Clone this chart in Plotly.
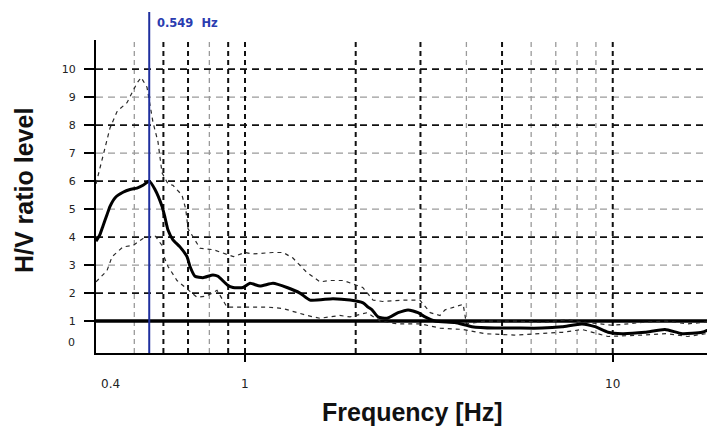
import math
import plotly.graph_objects as go

# ---------------- data ----------------
main_freq = [0.3934, 0.4034, 0.411, 0.4214, 0.4295, 0.443, 0.4659, 0.4867, 0.5084, 0.528, 0.549,
             0.5692, 0.5947, 0.606, 0.6175, 0.637, 0.6655, 0.6955, 0.7087, 0.7311, 0.7687, 0.8184,
             0.8446, 0.8933, 0.9276, 0.9876, 1.0318, 1.0985, 1.1917, 1.3006, 1.4109, 1.5024, 1.7351,
             1.9303, 2.0945, 2.161, 2.2156, 2.2999, 2.433, 2.6074, 2.7755, 2.9547, 3.0875, 3.287,
             3.7252, 4.1429, 4.7853, 5.425, 6.4236, 7.2811, 8.251, 8.9504, 9.7096, 10.6, 12.24,
             13.87, 15.44, 17.5, 18.97]
main_hv = [3.85, 4.1, 4.4, 4.8, 5.1, 5.4, 5.6, 5.7, 5.75, 5.85, 6.0,
           5.7, 5.1, 4.7, 4.25, 3.9, 3.65, 3.3, 2.95, 2.6, 2.55, 2.65,
           2.6, 2.3, 2.2, 2.2, 2.35, 2.25, 2.35, 2.2, 2.0, 1.75, 1.8,
           1.75, 1.65, 1.5, 1.4, 1.15, 1.1, 1.3, 1.4, 1.3, 1.15, 1.0,
           0.95, 0.8, 0.75, 0.75, 0.75, 0.8, 0.9, 0.8, 0.6, 0.55, 0.6,
           0.7, 0.55, 0.6, 0.8]

upper_freq = [0.3934, 0.411, 0.4295, 0.4494, 0.4776, 0.5084, 0.522, 0.5414, 0.549, 0.5621, 0.58,
              0.5947, 0.6175, 0.637, 0.674, 0.69, 0.70, 0.7545, 0.82, 0.93, 1.0, 1.05, 1.19,
              1.27, 1.35, 1.47, 1.6, 1.7, 1.85, 2.09, 2.23, 2.37, 2.69, 2.99, 3.19, 3.39, 3.5,
              3.68, 3.92, 4.0, 4.5, 5.5, 6.5, 7.5, 8.5, 10.0, 12.0, 14.0, 16.0, 18.97]
upper_hv = [5.9, 6.85, 7.9, 8.5, 8.8, 9.5, 9.7, 9.35, 8.9, 8.1, 7.4,
            6.3, 5.9, 5.85, 5.5, 5.0, 4.3, 3.6, 3.55, 3.3, 3.45, 3.4, 3.45,
            3.45, 3.25, 2.75, 2.4, 2.45, 2.45, 2.2, 1.75, 1.7, 1.75, 1.75, 1.3, 1.2, 1.4,
            1.5, 1.6, 0.9, 1.0, 1.0, 0.95, 1.05, 0.95, 0.85, 0.95, 1.0, 0.9, 1.0]

lower_freq = [0.3934, 0.4214, 0.435, 0.4659, 0.4962, 0.528, 0.5692, 0.5947, 0.598, 0.6175, 0.6532,
              0.7404, 0.7882, 0.8393, 0.8933, 1.0126, 1.1478, 1.2684, 1.4744, 1.6, 1.81, 1.93,
              2.15, 2.33, 2.6, 3.0, 3.39, 3.92, 4.5, 5.4, 6.4, 7.3, 8.25, 9.7, 12.0, 14.0, 16.0,
              18.97]
lower_hv = [2.4, 2.8, 3.3, 3.65, 3.7, 3.95, 4.05, 3.7, 3.4, 2.95, 2.45,
            1.85, 1.9, 2.1, 1.5, 1.5, 1.5, 1.45, 1.2, 1.1, 1.2, 1.15,
            1.3, 1.0, 0.9, 0.9, 0.75, 0.7, 0.55, 0.5, 0.55, 0.6, 0.7, 0.45, 0.5, 0.55, 0.45,
            0.6]

peak_freq = 0.549
peak_label = "0.549  Hz"

x_min, x_max = 0.3934, 18.97
y_min, y_max = -0.14, 11.04

h_grid_major = [2, 4, 6, 8, 10]
h_grid_minor = [3, 5, 7, 9]
v_grid_major = [0.6, 0.7, 0.9, 1, 2, 3, 5, 10]
v_grid_minor = [0.5, 0.8, 4, 6, 7, 8, 9]

y_tick_vals = [1, 2, 3, 4, 5, 6, 7, 8, 9, 10]
x_tick_labels = [(0.4, "0.4"), (1, "1"), (10, "10")]

# ---------------- figure ----------------
fig = go.Figure()


def hlines(vals):
    xs, ys = [], []
    for v in vals:
        xs += [x_min, x_max, None]
        ys += [v, v, None]
    return xs, ys


def vlines(vals):
    xs, ys = [], []
    for v in vals:
        xs += [v, v, None]
        ys += [y_min, y_max, None]
    return xs, ys


xs, ys = hlines(h_grid_minor)
fig.add_trace(go.Scatter(x=xs, y=ys, mode="lines", hoverinfo="skip",
                         line=dict(color="#9a9a9a", width=1.3, dash="7px,5px")))
xs, ys = vlines(v_grid_minor)
fig.add_trace(go.Scatter(x=xs, y=ys, mode="lines", hoverinfo="skip",
                         line=dict(color="#9a9a9a", width=1.3, dash="5px,4px")))
xs, ys = hlines(h_grid_major)
fig.add_trace(go.Scatter(x=xs, y=ys, mode="lines", hoverinfo="skip",
                         line=dict(color="#111111", width=1.6, dash="7px,5px")))
xs, ys = vlines(v_grid_major)
fig.add_trace(go.Scatter(x=xs, y=ys, mode="lines", hoverinfo="skip",
                         line=dict(color="#111111", width=2, dash="5px,4px")))

# reference level H/V = 1
fig.add_trace(go.Scatter(x=[x_min, x_max], y=[1, 1], mode="lines", hoverinfo="skip",
                         line=dict(color="black", width=3.5)))

fig.add_trace(go.Scatter(x=upper_freq, y=upper_hv, mode="lines",
                         line=dict(color="#2a2a2a", width=1.2, dash="4px,4px")))
fig.add_trace(go.Scatter(x=lower_freq, y=lower_hv, mode="lines",
                         line=dict(color="#2a2a2a", width=1.2, dash="4px,4px")))
fig.add_trace(go.Scatter(x=main_freq, y=main_hv, mode="lines",
                         line=dict(color="black", width=3, shape="spline", smoothing=0.5)))

# page has an 8px body margin; compensate so the plot lands where the reference has it
OFF = 8
L, T = 96 - OFF, 40 - OFF
W, H = 715 - OFF, 432 - OFF
R = 0
B = H - (353 - OFF)
pw, ph = W - L - R, H - T - B
lx0, lx1 = math.log10(x_min), math.log10(x_max)


def xpaper(f):
    return (math.log10(f) - lx0) / (lx1 - lx0)


def xpix(px):
    return (px - 96) / pw


def ypix(py):
    return (353 - py) / ph


fig.add_shape(type="line", xref="x", yref="paper", x0=peak_freq, x1=peak_freq,
              y0=0, y1=ypix(12), line=dict(color="#1f2f9e", width=2), layer="above")

annotations = [
    dict(x=xpaper(peak_freq), xref="paper", y=ypix(23), yref="paper", text="<b>" + peak_label + "</b>",
         showarrow=False, xanchor="left", yanchor="middle", xshift=6,
         font=dict(family="DejaVu Sans", size=11.5, color="#2a3cb0")),
    dict(x=xpix(412), xref="paper", y=ypix(412), yref="paper", text="<b>Frequency [Hz]</b>",
         showarrow=False, xanchor="center", yanchor="middle",
         font=dict(family="Liberation Sans", size=25, color="#111111")),
    dict(x=xpix(24), xref="paper", y=ypix(191), yref="paper", text="<b>H/V ratio level</b>",
         showarrow=False, xanchor="center", yanchor="middle", textangle=-90,
         font=dict(family="Liberation Sans", size=25, color="#111111")),
    dict(x=0, xref="paper", y=0.25, yref="y", text="0", showarrow=False,
         xanchor="right", yanchor="middle", xshift=-19,
         font=dict(family="DejaVu Sans", size=11, color="#222222")),
]
for f, t in x_tick_labels:
    annotations.append(dict(x=xpaper(f), xref="paper", y=ypix(384), yref="paper", text=t,
                            showarrow=False, xanchor="left" if f == 0.4 else "center",
                            yanchor="middle",
                            font=dict(family="DejaVu Sans", size=12, color="#222222")))

fig.update_layout(
    width=W, height=H,
    margin=dict(l=L, r=R, t=T, b=B, autoexpand=False),
    paper_bgcolor="white", plot_bgcolor="white",
    showlegend=False,
    annotations=annotations,
    xaxis=dict(type="log", range=[lx0, lx1], showgrid=False, zeroline=False,
               automargin=False,
               showline=True, linecolor="black", linewidth=2,
               tickmode="array", tickvals=[1, 10], ticks="outside", ticklen=7,
               tickwidth=2, tickcolor="black", showticklabels=False),
    yaxis=dict(range=[y_min, y_max], showgrid=False, zeroline=False,
               automargin=False,
               showline=True, linecolor="black", linewidth=2,
               tickmode="array", tickvals=y_tick_vals, ticks="outside", ticklen=10,
               tickwidth=1.5, tickcolor="black", ticklabelstandoff=6,
               tickfont=dict(family="DejaVu Sans", size=11, color="#222222")),
)

fig.write_html("out.html")
